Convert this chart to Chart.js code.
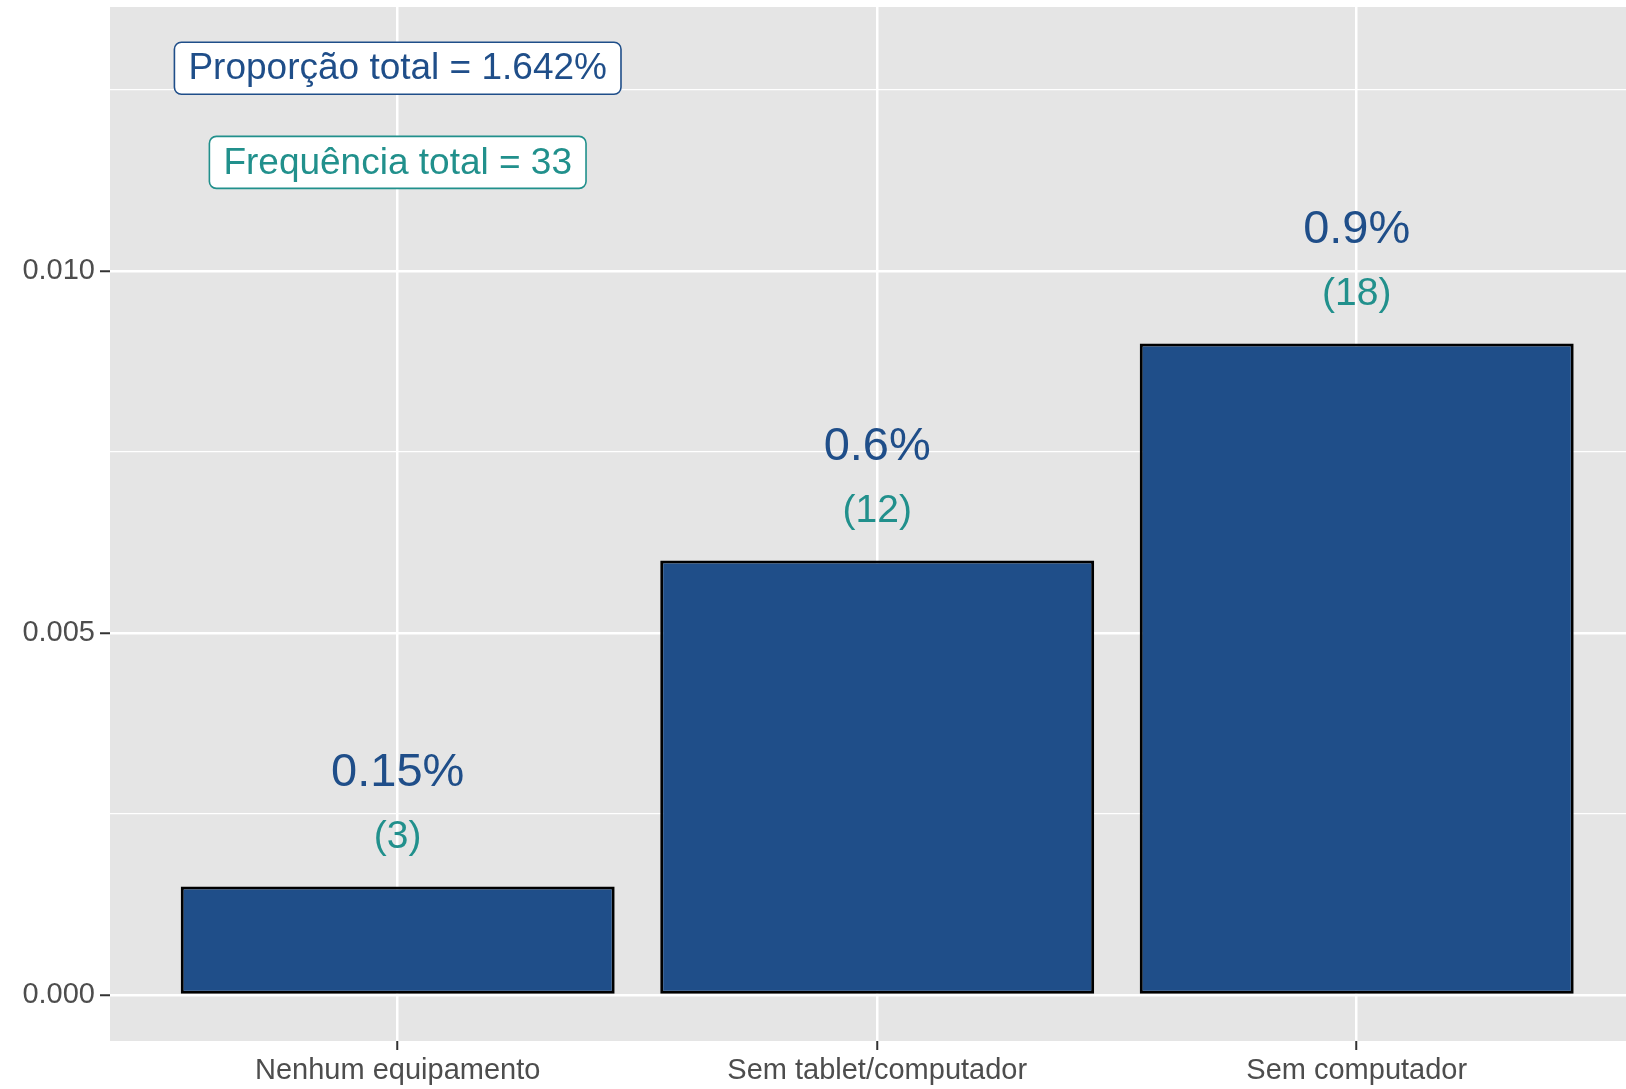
<!DOCTYPE html>
<html>
<head>
<meta charset="utf-8">
<script src="https://cdn.jsdelivr.net/npm/chart.js@4"></script>
<style>
  body { margin: 0; background: #ffffff; overflow: hidden; }
  canvas { display: block; }
</style>
</head>
<body>
<canvas id="bar-chart" width="1626" height="1089"></canvas>
<script>
(function () {
    'use strict';

    // dados
    const categories = ['Nenhum equipamento', 'Sem tablet/computador', 'Sem computador'];
    const proportions = [0.0015, 0.006, 0.009];
    const frequencies = [3, 12, 18];
    const pctLabels = ['0.15%', '0.6%', '0.9%'];
    const yTicks = [0, 0.0025, 0.005, 0.0075, 0.01, 0.0125];
    const yMajor = [0, 0.005, 0.01];
    const totalProp = 'Proporção total = 1.642%';
    const totalFreq = 'Frequência total = 33';

    const blue = '#1f4e89';
    const teal = '#21908c';
    const font = '"Liberation Sans", Arial, Helvetica, sans-serif';

    function isMajor(v) {
        return yMajor.some(function (m) { return Math.abs(m - v) < 1e-9; });
    }

    const ctx = document.getElementById('bar-chart');

    new Chart(ctx, {
        type: 'bar',
        data: {
            datasets: [{
                data: categories.map(function (c, i) { return { x: i, y: proportions[i] }; }),
                backgroundColor: blue,
                borderColor: '#000000',
                borderWidth: 3,
                borderSkipped: false,
                barPercentage: 0.905,
                categoryPercentage: 1
            }]
        },
        options: {
            responsive: false,
            animation: false,
            devicePixelRatio: 1,
            layout: { padding: { top: 7, right: 0, left: 0, bottom: 0 } },
            plugins: { legend: { display: false }, tooltip: { enabled: false } },
            scales: {
                x: {
                    type: 'linear',
                    offset: false,
                    min: -0.6,
                    max: 2.5616,
                    afterBuildTicks: function (axis) {
                        axis.ticks = categories.map(function (c, i) { return { value: i }; });
                    },
                    afterFit: function (axis) {
                        axis.height = 48;
                        axis.paddingLeft = 0;
                        axis.paddingRight = 0;
                    },
                    border: { display: false },
                    grid: {
                        offset: false,
                        color: '#ffffff',
                        lineWidth: 2.5,
                        tickColor: '#333333',
                        tickLength: 9,
                        tickWidth: 2
                    },
                    ticks: {
                        padding: 4,
                        maxRotation: 0,
                        autoSkip: false,
                        color: '#4d4d4d',
                        font: { family: font, size: 29 },
                        callback: function (v) { return categories[Math.round(v)]; }
                    }
                },
                y: {
                    min: -0.000635,
                    max: 0.013646,
                    afterBuildTicks: function (axis) {
                        axis.ticks = yTicks.map(function (v) { return { value: v }; });
                    },
                    afterFit: function (axis) {
                        axis.width = 110;
                        axis.paddingTop = 0;
                        axis.paddingBottom = 0;
                    },
                    border: { display: false },
                    grid: {
                        color: '#ffffff',
                        lineWidth: function (c) { return isMajor(c.tick.value) ? 2.5 : 1.2; },
                        tickColor: function (c) { return isMajor(c.tick.value) ? '#333333' : 'rgba(0,0,0,0)'; },
                        tickLength: 10,
                        tickWidth: 2
                    },
                    ticks: {
                        padding: 5,
                        color: '#4d4d4d',
                        font: { family: font, size: 29 },
                        callback: function (v) { return isMajor(v) ? v.toFixed(3) : ''; }
                    }
                }
            }
        },
        plugins: [{
            id: 'painel',
            beforeDraw: function (chart) {
                const a = chart.chartArea;
                const c = chart.ctx;
                c.save();
                c.fillStyle = '#e5e5e5';
                c.fillRect(a.left, a.top, a.right - a.left, a.bottom - a.top);
                c.restore();
            },
            afterDatasetsDraw: function (chart) {
                const c = chart.ctx;
                const xs = chart.scales.x;
                const ys = chart.scales.y;
                c.save();
                c.textAlign = 'center';
                c.textBaseline = 'middle';
                categories.forEach(function (cat, i) {
                    const x = xs.getPixelForValue(i);
                    c.fillStyle = blue;
                    c.font = '47px ' + font;
                    c.fillText(pctLabels[i], x, ys.getPixelForValue(proportions[i] + 0.00157));
                    c.fillStyle = teal;
                    c.font = '39px ' + font;
                    c.fillText('(' + frequencies[i] + ')', x, ys.getPixelForValue(proportions[i] + 0.00068));
                });

                // caixas de totais
                function box(text, yv, color) {
                    c.font = '37px ' + font;
                    const w = c.measureText(text).width + 28;
                    const h = 52;
                    const x = xs.getPixelForValue(0);
                    const y = ys.getPixelForValue(yv);
                    c.beginPath();
                    c.roundRect(x - w / 2, y - h / 2, w, h, 7);
                    c.fillStyle = '#ffffff';
                    c.fill();
                    c.lineWidth = 1.6;
                    c.strokeStyle = color;
                    c.stroke();
                    c.fillStyle = color;
                    c.fillText(text, x, y + 1);
                }
                box(totalProp, 0.0128, blue);
                box(totalFreq, 0.0115, teal);
                c.restore();
            }
        }]
    });
})();
</script>
</body>
</html>
